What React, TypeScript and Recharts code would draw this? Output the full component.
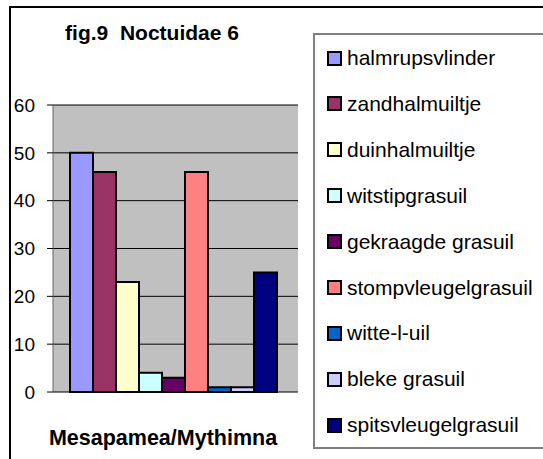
import { BarChart, Bar, XAxis, YAxis, CartesianGrid } from 'recharts';

const category = 'Mesapamea/Mythimna';
const species = [
  'halmrupsvlinder',
  'zandhalmuiltje',
  'duinhalmuiltje',
  'witstipgrasuil',
  'gekraagde grasuil',
  'stompvleugelgrasuil',
  'witte-l-uil',
  'bleke grasuil',
  'spitsvleugelgrasuil',
];
const counts = [50, 46, 23, 4, 3, 46, 1, 1, 25];
const colors = [
  '#9999ff',
  '#993366',
  '#ffffcc',
  '#ccffff',
  '#660066',
  '#ff8080',
  '#0066cc',
  '#ccccff',
  '#000080',
];
const yTicks = [0, 10, 20, 30, 40, 50, 60];

const FONT = '"Liberation Sans", Arial, sans-serif';

const row: Record<string, string | number> = { name: category };
species.forEach((s, i) => {
  row[s] = counts[i];
});
const chartData = [row];

export default function App() {
  return (
    <div
      style={{
        position: 'absolute',
        left: 0,
        top: 0,
        width: 543,
        height: 459,
        overflow: 'hidden',
        background: '#fff',
        fontFamily: FONT,
      }}
    >
      {/* outer chart border, cropped at right/bottom */}
      <div
        style={{
          position: 'absolute',
          left: 9,
          top: 6,
          width: 700,
          height: 600,
          borderLeft: '2px solid #000',
          borderTop: '2px solid #000',
        }}
      />

      <div style={{ position: 'absolute', left: 0, top: 0 }}>
        <BarChart
          width={543}
          height={459}
          data={chartData}
          margin={{ top: 105, right: 245, bottom: 67, left: 3 }}
          barCategoryGap={17}
          barGap={0}
        >
          <CartesianGrid vertical={false} stroke="#000" fill="#c0c0c0" />
          <XAxis
            dataKey="name"
            tick={false}
            tickLine={false}
            axisLine={{ stroke: '#000', strokeWidth: 1.5 }}
            height={0}
          />
          <XAxis
            xAxisId="top"
            orientation="top"
            dataKey="name"
            tick={false}
            tickLine={false}
            axisLine={{ stroke: '#808080', strokeWidth: 2 }}
            height={0}
          />
          <YAxis
            domain={[0, 60]}
            ticks={yTicks}
            width={50}
            tickSize={6}
            tickMargin={12}
            axisLine={{ stroke: '#666' }}
            tickLine={{ stroke: '#000' }}
            tick={{ fill: '#000', fontSize: 19, fontFamily: FONT }}
          />
          <YAxis
            yAxisId="right"
            orientation="right"
            domain={[0, 60]}
            tick={false}
            tickLine={false}
            axisLine={{ stroke: '#808080', strokeWidth: 2 }}
            width={0}
          />
          {species.map((s, i) => (
            <Bar
              key={s}
              dataKey={s}
              fill={colors[i]}
              stroke="#000"
              strokeWidth={2}
              isAnimationActive={false}
            />
          ))}
        </BarChart>
      </div>

      {/* title */}
      <div
        style={{
          position: 'absolute',
          left: 0,
          top: 22,
          width: 304,
          textAlign: 'center',
          fontSize: 21,
          lineHeight: '21px',
          fontWeight: 'bold',
          whiteSpace: 'pre',
        }}
      >
        {'fig.9  Noctuidae 6'}
      </div>

      {/* category label */}
      <div
        style={{
          position: 'absolute',
          left: 13,
          top: 428,
          width: 300,
          textAlign: 'center',
          fontSize: 21.5,
          lineHeight: '21px',
          fontWeight: 'bold',
        }}
      >
        {category}
      </div>

      {/* legend */}
      <div
        style={{
          position: 'absolute',
          left: 313,
          top: 33,
          width: 300,
          height: 412,
          border: '2px solid #808080',
          background: '#fff',
        }}
      >
        {species.map((s, i) => (
          <div
            key={s}
            style={{
              position: 'absolute',
              left: 12,
              top: 11 + i * 45.9,
              height: 24,
              display: 'flex',
              alignItems: 'center',
              fontSize: 21,
              whiteSpace: 'nowrap',
            }}
          >
            <span
              style={{
                display: 'inline-block',
                width: 11,
                height: 11,
                border: '2px solid #000',
                background: colors[i],
                marginRight: 5,
              }}
            />
            {s}
          </div>
        ))}
      </div>
    </div>
  );
}
